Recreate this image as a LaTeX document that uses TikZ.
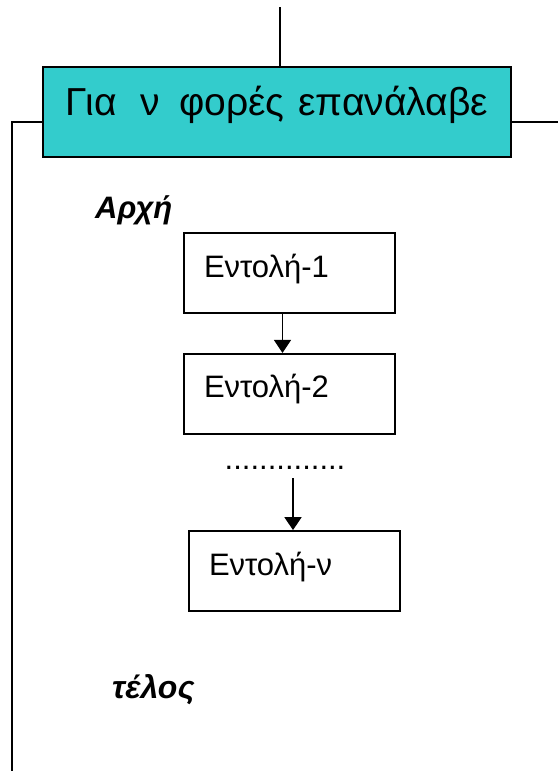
\documentclass[tikz,border=0pt]{standalone}
\usepackage{fontspec}
\setmainfont{Liberation Sans}
\usepackage{xcolor}
\usetikzlibrary{positioning, arrows.meta}

\definecolor{loopcyan}{HTML}{33CCCC}

\begin{document}
\begin{tikzpicture}[
    x=1pt, y=-1pt,
    every path/.style={line width=1.8pt},
    loopbox/.style={draw, fill=loopcyan, minimum width=468pt, minimum height=90pt,
        text height=28pt, text depth=22pt, font=\fontsize{39}{46}\selectfont},
    cmdbox/.style={draw, minimum width=211pt, minimum height=80pt, text width=171pt,
        inner xsep=20pt, align=left, text height=22pt, text depth=14pt,
        font=\fontsize{31}{36}\selectfont},
    headword/.style={anchor=base west, font=\fontsize{#1}{#1}\selectfont\bfseries\itshape},
    arr/.style={-{Triangle[width=17pt,length=13pt]}}
]
\useasboundingbox (0,0) rectangle (558,771);

% loop header
\node[loopbox] (loop) at (277,112) {Για\hspace{24pt}ν\hspace{19pt}φορές\hspace{14pt}επανάλαβε};
\coordinate (top) at (280,7);
\coordinate (out) at (558,122);
\coordinate (corner) at (12,122);
\coordinate (bottom) at (12,771);

\draw (top) -- (top |- loop.north);
\draw ([yshift=-10pt]loop.east) -- (out);
\draw ([yshift=-10pt]loop.west) -- (corner) -- (bottom);

% body of the loop
\node[headword=31] (begin) at (91,218) {Αρχή};
\node[cmdbox] (cmd1) at (289.5,273) {Εντολή-1};
\node[cmdbox, below=39pt of cmd1] (cmd2) {Εντολή-2};
\node[anchor=base, font=\fontsize{31}{36}\selectfont] (dots) at (285,469) {..............};
\node[cmdbox] (cmdn) at (294.5,571) {Εντολή-ν};
\node[headword=32] (end) at (108,698) {τέλος};

\coordinate (gap) at (293,478);
\draw[arr] ([xshift=-7pt]cmd1.south) -- ([xshift=-7pt]cmd2.north);
\draw[arr] (gap) -- (gap |- cmdn.north);
\end{tikzpicture}
\end{document}
